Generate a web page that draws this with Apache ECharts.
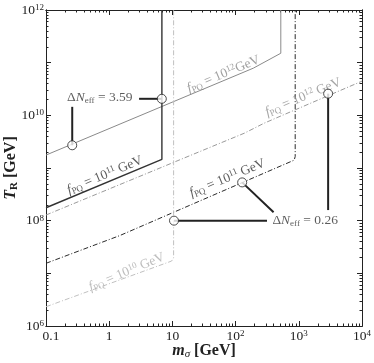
<!DOCTYPE html>
<html><head><meta charset="utf-8">
<script src="https://cdn.jsdelivr.net/npm/echarts@6/dist/echarts.min.js"></script>
<style>html,body{margin:0;padding:0;background:#fff}#c{width:374px;height:363px}</style>
</head><body><div id="c"></div>
<script>
// ---- axis ranges & ticks ----
const xRange = [0.1, 1e4];
const yRange = [1e6, 1e12];
const xMajor = [0.1, 1, 10, 100, 1000, 10000];
const yMajor = [1e6, 1e7, 1e8, 1e9, 1e10, 1e11, 1e12];
const xTickLabels = ['0.1', '1', '10', '10^2', '10^3', '10^4'];
const yLabelTicks = [1e6, 1e8, 1e10, 1e12];
const yTickLabels = ['10^6', '10^8', '10^10', '10^12'];

// ---- curves [m_sigma (GeV), T_R (GeV)] ----
const fpq12Solid = [[0.1, 1.76e9], [191, 7.87e10], [519, 1.51e11], [519, 1e12]];
const fpq11Solid = [[0.1, 1.76e8], [6.82, 1.46e9], [6.82, 1e12]];
const fpq12Dash  = [[0.1, 1.28e8], [138, 4.59e9], [284, 7.11e9], [1e4, 4.46e10]];
const fpq11Dash  = [[0.1, 1.55e7], [1.47, 5.21e7], [845, 1.41e9], [877, 1.65e9], [877, 1e12]];
const fpq10Dash  = [[0.1, 2.32e6], [9.7, 1.71e7], [10.45, 1.95e7], [10.45, 1e12]];

// ---- annotations ----
const circlePts = [[0.26, 2.7e9], [6.8, 2.06e10], [10.6, 1e8], [127, 5.33e8], [2911, 2.58e10]];
const leaders = [
  [[0.26, 2.7e9], [0.26, 1.45e10]],
  [[2.97, 2.06e10], [6.8, 2.06e10]],
  [[10.6, 1e8], [314, 1e8]],
  [[127, 5.33e8], [399, 1.44e8]],
  [[2911, 2.58e10], [2911, 1.59e8]]
];
const curveLabelText = ['10^12GeV', '10^11 GeV', '10^12 GeV', '10^11 GeV', '10^10 GeV'];
const curveLabelPos = [[64.3, 6.05e10], [0.853, 7.33e8], [1172, 2.21e10], [74.3, 6.43e8], [1.9, 1.06e7]];
const curveLabelColor = ['#888888', '#333333', '#8f8f8f', '#333333', '#adadad'];
const dnText = ['3.59', '0.26'];
const dnPos = [[0.711, 2.17e10], [1262, 1e8]];

const FONT = 'Liberation Serif';
function sup(s) { return s.replace(/\^(\d+)/g, '{sup|$1}'); }
const baseRich = {
  n: {fontFamily: FONT, fontSize: 13.5, lineHeight: 15},
  i: {fontFamily: FONT, fontSize: 13.5, fontStyle: 'italic', lineHeight: 15},
  sup: {fontFamily: FONT, fontSize: 9, lineHeight: 9, verticalAlign: 'top'},
  sub: {fontFamily: FONT, fontSize: 9, lineHeight: 9, verticalAlign: 'bottom'},
  p: {fontFamily: FONT, fontSize: 13.5, padding: [0, 0, 0, 10]}
};
function richColored(c) {
  const r = {};
  for (const k in baseRich) r[k] = Object.assign({}, baseRich[k], {color: c});
  return r;
}
function minors(lo, hi) {
  const out = [];
  for (let e = lo; e < hi; e++) for (let k = 2; k <= 9; k++) out.push(k * Math.pow(10, e));
  return out;
}
const xMinor = minors(-1, 4);
const yMinor = minors(6, 12);

function axis(range, pos, vals, len, label) {
  return {
    type: 'log', min: range[0], max: range[1], position: pos,
    axisLine: {show: true, lineStyle: {color: '#222', width: 1}},
    axisTick: {show: true, inside: true, length: len, customValues: vals, lineStyle: {color: '#222', width: 1}},
    axisLabel: label || {show: false},
    splitLine: {show: false}
  };
}
function nearestIdx(arr, v) {
  let b = 0, bd = Infinity;
  arr.forEach((a, i) => { const d = Math.abs(Math.log10(a) - Math.log10(v)); if (d < bd) { bd = d; b = i; } });
  return b;
}
const xLabel = {
  show: true, customValues: xMajor, margin: 3, color: '#222', fontFamily: FONT, fontSize: 13.5,
  rich: richColored('#222'),
  formatter: v => { const i = nearestIdx(xMajor, v); return i === 0 ? '{p|' + xTickLabels[0] + '}' : sup(xTickLabels[i]); }
};
const yLabel = {
  show: true, customValues: yLabelTicks, margin: 2, color: '#222', fontFamily: FONT, fontSize: 13.5,
  rich: richColored('#222'),
  formatter: v => sup(yTickLabels[nearestIdx(yLabelTicks, v)])
};

const xAxes = [axis(xRange, 'bottom', xMajor, 5, xLabel), axis(xRange, 'top', xMajor, 5),
               axis(xRange, 'bottom', xMinor, 2.5), axis(xRange, 'top', xMinor, 2.5)];
const yAxes = [axis(yRange, 'left', yMajor, 5, yLabel), axis(yRange, 'right', yMajor, 5),
               axis(yRange, 'left', yMinor, 2.5), axis(yRange, 'right', yMinor, 2.5)];
xAxes[0].name = '{b|m}{bs|σ}{bn| [GeV]}';
xAxes[0].nameLocation = 'middle';
xAxes[0].nameGap = 16;
xAxes[0].nameMoveOverlap = false;
xAxes[0].nameTextStyle = {rich: {
  b: {fontFamily: FONT, fontSize: 16, fontWeight: 'bold', fontStyle: 'italic', color: '#222', lineHeight: 18},
  bs: {fontFamily: FONT, fontSize: 11, fontStyle: 'italic', color: '#222', lineHeight: 10, verticalAlign: 'bottom'},
  bn: {fontFamily: FONT, fontSize: 16, fontWeight: 'bold', color: '#222', lineHeight: 18}
}};
yAxes[0].name = '{b|T}{bs|R}{bn| [GeV]}';
yAxes[0].nameLocation = 'middle';
yAxes[0].nameGap = 26;
yAxes[0].nameMoveOverlap = false;
yAxes[0].nameRotate = 90;
yAxes[0].nameTextStyle = {rich: {
  b: {fontFamily: FONT, fontSize: 16, fontWeight: 'bold', fontStyle: 'italic', color: '#222', lineHeight: 18},
  bs: {fontFamily: FONT, fontSize: 11, fontWeight: 'bold', color: '#222', lineHeight: 10, verticalAlign: 'bottom'},
  bn: {fontFamily: FONT, fontSize: 16, fontWeight: 'bold', color: '#222', lineHeight: 18}
}};

const DD = [5, 2, 1, 2];
function curve(data, color, width, type) {
  return {type: 'line', data, showSymbol: false, symbol: 'none', silent: true, z: 2,
          lineStyle: {color, width, type}};
}
const series = [
  curve(fpq12Solid, '#8a8a8a', 1, 'solid'),
  curve(fpq11Solid, '#333333', 1.4, 'solid'),
  curve(fpq12Dash, '#9a9a9a', 1, DD),
  curve(fpq11Dash, '#2a2a2a', 1, DD),
  curve(fpq10Dash, '#c0c0c0', 1, DD)
];
leaders.forEach(seg => series.push({type: 'line', data: seg, showSymbol: false, symbol: 'none', silent: true, z: 3,
  lineStyle: {color: '#222', width: 2}}));
series.push({
  type: 'scatter', symbolSize: 0, silent: true, z: 5,
  data: curveLabelPos.map((p, i) => ({
    value: p,
    label: {show: true, position: 'inside', rotate: 22.6,
      formatter: '{i|f}{sub|PQ}{n| = }' + sup(curveLabelText[i]).replace(/(^|\})([^{}]+)(\{|$)/g, (m, a, t, b) => a + (t ? '{n|' + t + '}' : '') + b),
      rich: richColored(curveLabelColor[i])}
  }))
});
series.push({
  type: 'scatter', symbolSize: 0, silent: true, z: 5,
  data: dnPos.map((p, i) => ({
    value: p,
    label: {show: true, position: 'inside',
      formatter: '{n|Δ}{i|N}{sub|eff}{n| = ' + dnText[i] + '}',
      rich: richColored('#333')}
  }))
});
series.push({
  type: 'scatter', data: circlePts, symbol: 'circle', symbolSize: 9, silent: true, z: 6,
  itemStyle: {color: '#fff', borderColor: '#222', borderWidth: 1}
});

const chart = echarts.init(document.getElementById('c'), null, {renderer: 'canvas'});
chart.setOption({
  animation: false,
  backgroundColor: '#fff',
  grid: {left: 46, right: 11, top: 10, bottom: 37, outerBoundsContain: 'axisLabel'},
  xAxis: xAxes, yAxis: yAxes,
  series
});
</script></body></html>
